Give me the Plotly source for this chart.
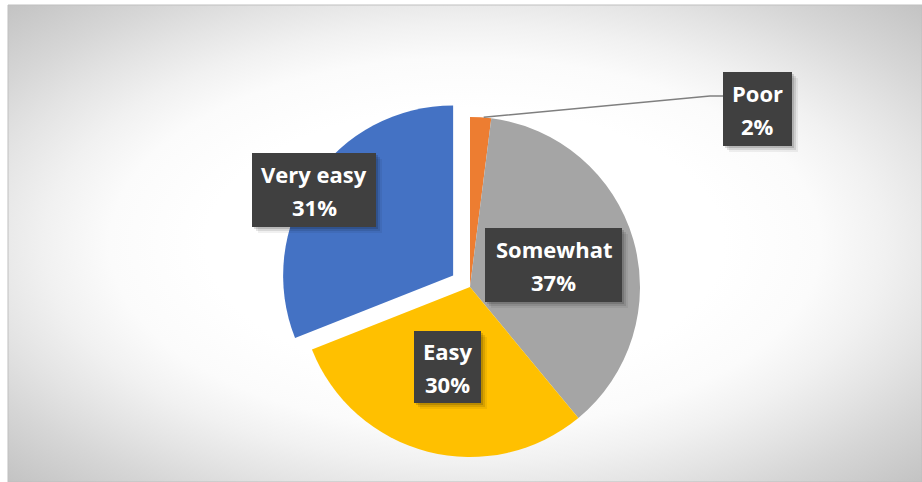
import base64
import math
import plotly.graph_objects as go

# ---- data ----
labels = ["Poor", "Somewhat", "Easy", "Very easy"]
values = [2, 37, 30, 31]
colors = ["#ED7D31", "#A5A5A5", "#FFC000", "#4472C4"]
pulls = [0, 0, 0, 0.12]

# ---- canvas geometry (pixels) ----
W, H = 922, 482
ML, MT = 8, 5
PW, PH = W - ML, H - MT
CX, CY, R = 470, 287, 170   # pie centre and radius


def paper(x, y):
    return (x - ML) / PW, 1 - (y - MT) / PH


# domain sized so plotly's pull-shrunk radius comes out at R
box = 2 * R * (1 + max(pulls))
pcx, pcy = paper(CX, CY)
domain = dict(x=[pcx - box / PW / 2, pcx + box / PW / 2],
              y=[pcy - box / PH / 2, pcy + box / PH / 2])

fig = go.Figure(go.Pie(
    labels=labels, values=values, sort=False, direction="clockwise",
    rotation=0, pull=pulls, marker=dict(colors=colors, line=dict(width=0)),
    textinfo="none", hoverinfo="label+percent", domain=domain,
    showlegend=False,
))

# radial grey background
stops = [(0.40, "#ffffff"), (0.55, "#fbfbfb"), (0.65, "#f1f1f1"),
         (0.75, "#e4e4e4"), (0.85, "#d6d6d6"), (1.0, "#c3c3c3")]
stop_xml = "".join(f'<stop offset="{o}" stop-color="{c}"/>' for o, c in stops)
svg = f'''<svg xmlns="http://www.w3.org/2000/svg" width="{PW}" height="{PH}" viewBox="0 0 {PW} {PH}" preserveAspectRatio="none">
<defs><radialGradient id="g" cx="0.5" cy="0.5" r="0.7071" gradientUnits="objectBoundingBox">{stop_xml}</radialGradient></defs>
<rect x="0" y="0" width="{PW}" height="{PH}" fill="url(#g)"/></svg>'''
src = "data:image/svg+xml;base64," + base64.b64encode(svg.encode()).decode()

shapes = [dict(type="rect", xref="paper", yref="paper", x0=0, y0=0, x1=1, y1=1,
               line=dict(color="#bfbfbf", width=1), fillcolor="rgba(0,0,0,0)",
               layer="below")]
annotations = []

# label boxes: (left, top, right, bottom) in pixels
boxes = {
    "Poor": (723, 72, 792, 146),
    "Somewhat": (485, 228, 622, 302),
    "Easy": (414, 331, 481, 403),
    "Very easy": (252, 153, 376, 227),
}

total = sum(values)
FONT = dict(family="Open Sans", size=22, color="white")

# leader line from the Poor slice to its label
start = 0.0
mids = {}
for lab, v in zip(labels, values):
    mids[lab] = (start + v / 2) / total * 2 * math.pi
    start += v
a = mids["Poor"]
sx, sy = CX + R * math.sin(a) + 3, CY - R * math.cos(a)
l, t, r, b = boxes["Poor"]
ly = 96
p0, p1, p2 = paper(sx, sy), paper(l - 13, ly), paper(l, ly)
shapes.append(dict(type="path", xref="paper", yref="paper",
                   path=f"M {p0[0]},{p0[1]} L {p1[0]},{p1[1]} L {p2[0]},{p2[1]}",
                   line=dict(color="#7f7f7f", width=1.5), layer="above"))

for lab, v in zip(labels, values):
    l, t, r, b = boxes[lab]
    # soft drop shadow
    for off, alpha in ((6, 0.06), (4, 0.10), (2, 0.14)):
        x0, y0 = paper(l + off, t + off)
        x1, y1 = paper(r + off, b + off)
        shapes.append(dict(type="rect", xref="paper", yref="paper",
                           x0=x0, y0=y1, x1=x1, y1=y0, line=dict(width=0),
                           fillcolor=f"rgba(0,0,0,{alpha})", layer="above"))
    x0, y0 = paper(l, t)
    x1, y1 = paper(r, b)
    shapes.append(dict(type="rect", xref="paper", yref="paper",
                       x0=x0, y0=y1, x1=x1, y1=y0, line=dict(width=0),
                       fillcolor="#404040", layer="above"))
    cx = (l + r) / 2
    cy = (t + b) / 2
    pct = f"{round(v / total * 100)}%"
    for txt, yy in ((lab, cy - 16), (pct, cy + 16.5)):
        px, py = paper(cx, yy)
        annotations.append(dict(xref="paper", yref="paper", x=px, y=py,
                                text=f"<b>{txt}</b>", showarrow=False,
                                xanchor="center", yanchor="middle", font=FONT))

fig.update_layout(
    width=W, height=H,
    margin=dict(l=ML, t=MT, r=0, b=0),
    paper_bgcolor="white",
    images=[dict(source=src, xref="paper", yref="paper", x=0, y=1,
                 sizex=1, sizey=1, xanchor="left", yanchor="top",
                 sizing="stretch", layer="below")],
    shapes=shapes,
    annotations=annotations,
)

fig.write_html("out.html")
